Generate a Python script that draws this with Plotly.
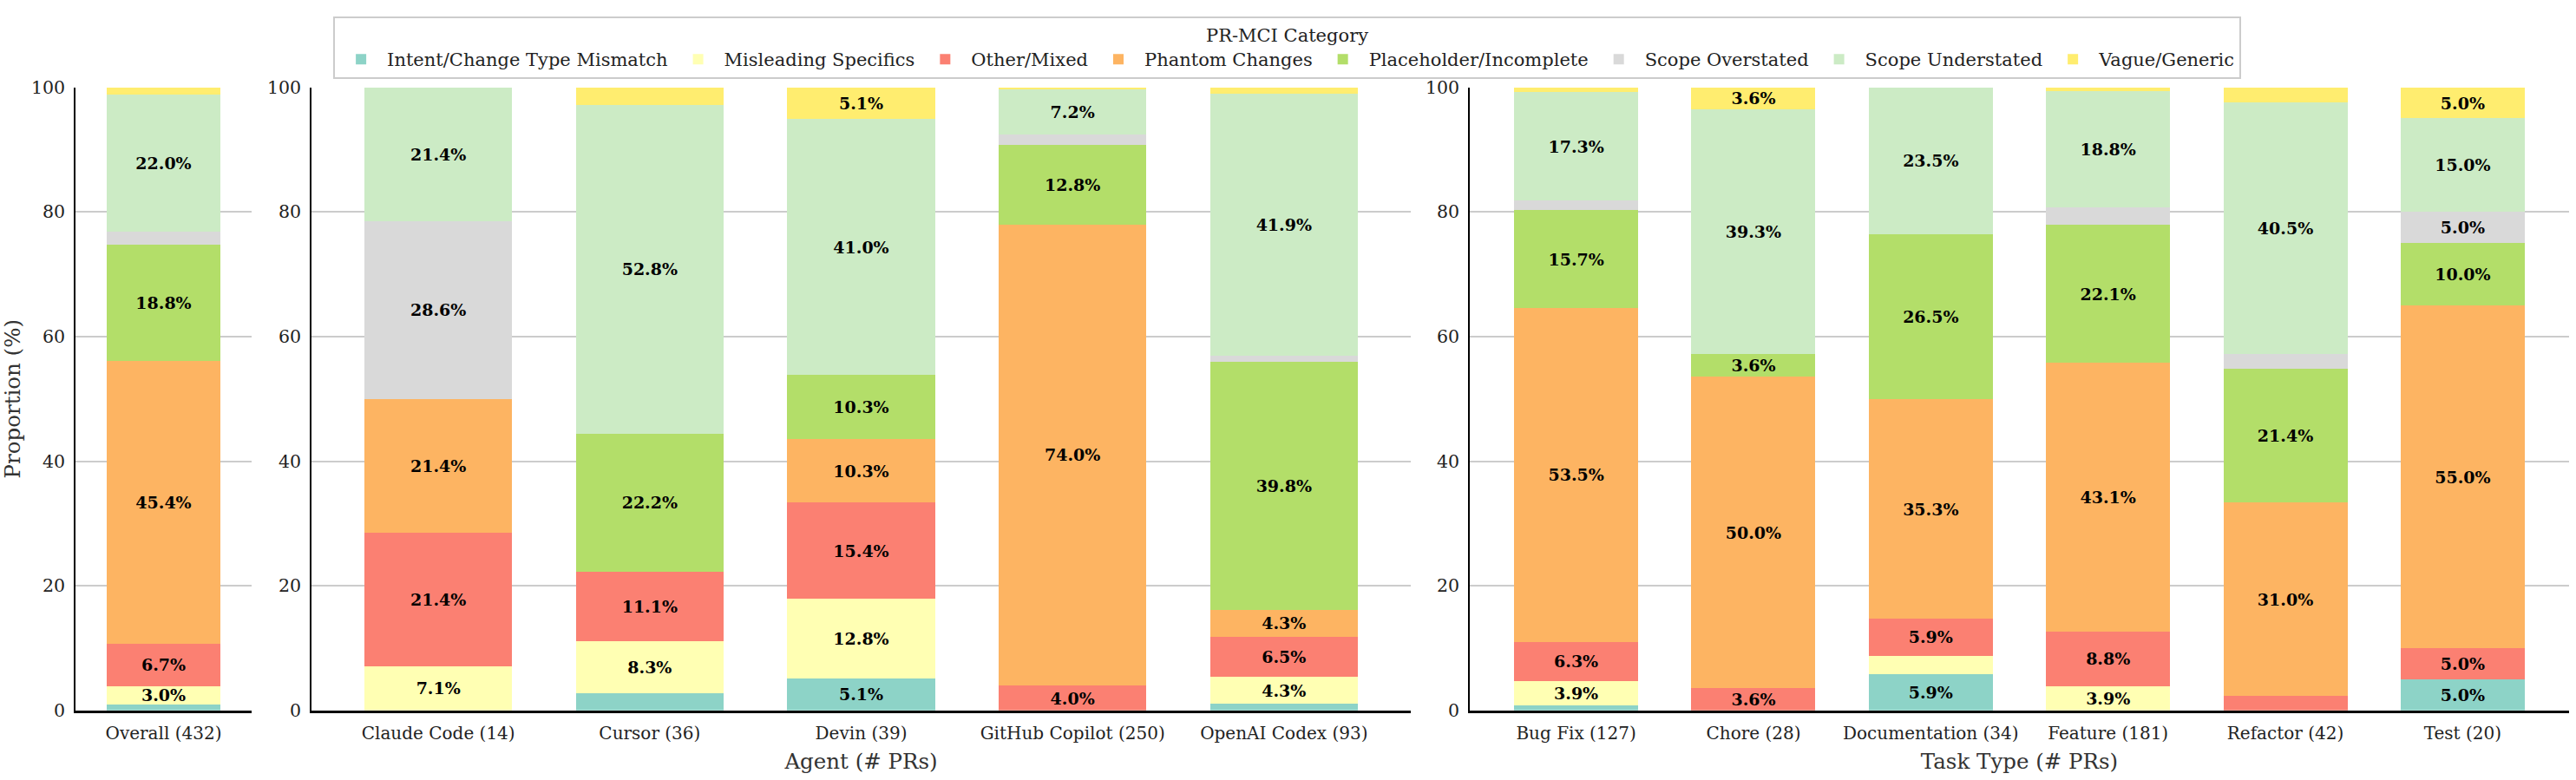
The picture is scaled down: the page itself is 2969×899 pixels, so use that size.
import plotly.graph_objects as go

# ---------------- data ----------------
overall_labels = ["Overall (432)"]
agent_labels = ["Claude Code (14)", "Cursor (36)", "Devin (39)", "GitHub Copilot (250)", "OpenAI Codex (93)"]
task_labels = ["Bug Fix (127)", "Chore (28)", "Documentation (34)", "Feature (181)", "Refactor (42)", "Test (20)"]

category_names = [
    "Intent/Change Type Mismatch", "Misleading Specifics", "Other/Mixed", "Phantom Changes",
    "Placeholder/Incomplete", "Scope Overstated", "Scope Understated", "Vague/Generic",
]
category_colors = ["#8dd3c7", "#ffffb3", "#fb8072", "#fdb462", "#b3de69", "#d9d9d9", "#ccebc5", "#ffed6f"]

# order: Overall | Claude Code, Cursor, Devin, GitHub Copilot, OpenAI Codex | Bug Fix, Chore, Documentation, Feature, Refactor, Test
intent_mismatch = [0.93, 0.0, 2.78, 5.13, 0.0, 1.08, 0.79, 0.0, 5.88, 0.0, 0.0, 5.0]
misleading_specifics = [3.01, 7.14, 8.33, 12.82, 0.0, 4.30, 3.94, 0.0, 2.94, 3.87, 0.0, 0.0]
other_mixed = [6.71, 21.43, 11.11, 15.38, 4.0, 6.45, 6.30, 3.57, 5.88, 8.84, 2.38, 5.0]
phantom_changes = [45.37, 21.43, 0.0, 10.26, 74.0, 4.30, 53.54, 50.0, 35.29, 43.09, 30.96, 55.0]
placeholder_incomplete = [18.75, 0.0, 22.22, 10.26, 12.8, 39.78, 15.74, 3.57, 26.47, 22.10, 21.43, 10.0]
scope_overstated = [2.08, 28.57, 0.0, 0.0, 1.6, 1.08, 1.57, 0.0, 0.0, 2.76, 2.38, 5.0]
scope_understated = [21.99, 21.43, 52.78, 41.03, 7.2, 41.94, 17.32, 39.29, 23.53, 18.78, 40.48, 15.0]
vague_generic = [1.16, 0.0, 2.78, 5.13, 0.4, 1.08, 0.79, 3.57, 0.0, 0.55, 2.38, 5.0]

series_values = [intent_mismatch, misleading_specifics, other_mixed, phantom_changes,
                 placeholder_incomplete, scope_overstated, scope_understated, vague_generic]

y_ticks = [0, 20, 40, 60, 80, 100]
label_threshold = 3.0

# ---------------- layout geometry ----------------
W, H = 2969, 899
panels = [
    dict(labels=overall_labels, sl=slice(0, 1), xa="x", ya="y", width=0.77, rng=[-0.6, 0.6]),
    dict(labels=agent_labels, sl=slice(1, 6), xa="x2", ya="y2", width=0.7, rng=[-0.6, 4.6]),
    dict(labels=task_labels, sl=slice(6, 12), xa="x3", ya="y3", width=0.7, rng=[-0.6, 5.6]),
]

FONT = "DejaVu Serif"
fig = go.Figure()

for pi, p in enumerate(panels):
    for ci, (name, color, vals) in enumerate(zip(category_names, category_colors, series_values)):
        v = vals[p["sl"]]
        txt = [f"{x:.1f}%" if x >= label_threshold else "" for x in v]
        fig.add_trace(go.Bar(
            x=p["labels"], y=v, name=name, legendgroup=name, showlegend=(pi == 0),
            marker=dict(color=color, line=dict(width=0)),
            width=p["width"], text=txt, textposition="inside", insidetextanchor="middle",
            textangle=0,
            textfont=dict(family=FONT, size=19, color="black", weight="bold"),
            xaxis=p["xa"], yaxis=p["ya"], hoverinfo="skip",
        ))

x_domains = [[87 / W, 290 / W], [359 / W, 1626 / W], [1694 / W, 2961 / W]]
y_domain = [1 - 829 / H, 1 - 91 / H]
x_titles = ["", "Agent (# PRs)", "Task Type (# PRs)"]

layout = dict(
    width=W, height=H, margin=dict(l=0, r=0, t=0, b=0),
    barmode="stack", bargap=0.3,
    paper_bgcolor="white", plot_bgcolor="white",
    font=dict(family=FONT, size=20, color="#222222"),
    uniformtext=dict(minsize=19, mode="show"),
    legend=dict(
        orientation="h", x=0.4997, xanchor="center", y=1 - 7 / H, yanchor="top",
        title=dict(text="PR-MCI Category", side="top center", font=dict(family=FONT, size=21, color="#222222")),
        font=dict(family=FONT, size=21, color="#222222"),
        bgcolor="white", bordercolor="#cccccc", borderwidth=2,
        traceorder="normal", itemwidth=50,
    ),
)

for i in range(3):
    xs = "xaxis" if i == 0 else f"xaxis{i + 1}"
    ys = "yaxis" if i == 0 else f"yaxis{i + 1}"
    xr = "x" if i == 0 else f"x{i + 1}"
    yr = "y" if i == 0 else f"y{i + 1}"
    layout[xs] = dict(
        domain=x_domains[i], anchor=yr, range=panels[i]["rng"], type="category",
        showline=True, linecolor="black", linewidth=2.5, ticks="", showgrid=False,
        ticklabelstandoff=6,
        tickfont=dict(family=FONT, size=20, color="#222222"),
        title=dict(text=x_titles[i], font=dict(family=FONT, size=24.5, color="#333333"), standoff=14),
        fixedrange=True,
    )
    layout[ys] = dict(
        domain=y_domain, anchor=xr, range=[0, 100], tickvals=y_ticks,
        showline=True, linecolor="black", linewidth=1.5, ticks="", ticklabelstandoff=6,
        showgrid=True, gridcolor="#cccccc", gridwidth=1.5, zeroline=False,
        tickfont=dict(family=FONT, size=20.5, color="#222222"),
        title=dict(text="Proportion (%)" if i == 0 else "", font=dict(family=FONT, size=24.5, color="#333333"), standoff=12),
        fixedrange=True,
    )

fig.update_layout(**layout)

fig.write_html("out.html", config={"displayModeBar": False},
               post_script="document.body.style.margin='0';document.body.style.overflow='hidden';")
